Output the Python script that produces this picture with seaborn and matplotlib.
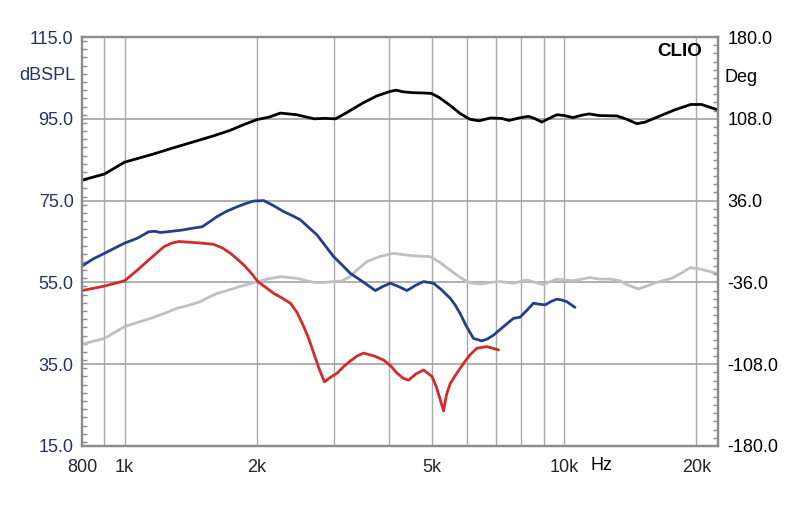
import numpy as np
import pandas as pd
import matplotlib
matplotlib.use("Agg")
import matplotlib.pyplot as plt
import seaborn as sns
from matplotlib.ticker import FixedLocator, NullFormatter, MultipleLocator

# ---------------- data ----------------
black_f = [800, 900, 1000, 1164, 1300, 1470, 1600, 1731, 1870, 2000, 2130, 2262,
           2460, 2700, 2850, 3020, 3200, 3490, 3750, 4023, 4150, 4300, 4510, 4800,
           4990, 5200, 5500, 5800, 6100, 6400, 6800, 7200, 7500, 7900, 8300, 8600,
           8900, 9200, 9640, 10000, 10480, 11000, 11400, 12000, 13200, 13800,
           14650, 15300, 16270, 17870, 19420, 20550, 22340]
black_db = [80.0, 81.5, 84.4, 86.4, 88.0, 89.7, 90.9, 92.1, 93.6, 94.8, 95.4, 96.4,
            96.0, 95.0, 95.1, 95.0, 96.5, 98.9, 100.6, 101.7, 102.0, 101.6, 101.4,
            101.3, 101.2, 100.2, 98.3, 96.3, 94.9, 94.5, 95.2, 95.1, 94.6, 95.2,
            95.6, 95.0, 94.2, 95.0, 96.0, 95.8, 95.3, 95.9, 96.2, 95.8, 95.7, 95.0,
            93.8, 94.2, 95.4, 97.2, 98.5, 98.5, 97.2]

blue_f = [800, 850, 900, 950, 1000, 1069, 1136, 1170, 1207, 1280, 1352, 1420,
          1502, 1560, 1624, 1700, 1804, 1900, 1967, 2073, 2180, 2302, 2400, 2512,
          2620, 2741, 2860, 2990, 3130, 3264, 3480, 3720, 3870, 4023, 4200, 4391,
          4580, 4788, 5047, 5260, 5508, 5650, 5800, 6000, 6221, 6501, 6700, 6908,
          7300, 7670, 7943, 8200, 8516, 8750, 9054, 9330, 9625, 9880, 10140, 10590]
blue_db = [59.0, 60.8, 62.1, 63.4, 64.6, 65.8, 67.4, 67.5, 67.2, 67.5, 67.8, 68.2,
           68.6, 69.8, 71.1, 72.3, 73.5, 74.4, 74.9, 75.0, 73.8, 72.3, 71.4, 70.3,
           68.5, 66.6, 64.0, 61.3, 59.2, 57.2, 55.2, 53.0, 54.0, 54.8, 54.0, 53.0,
           54.2, 55.2, 54.8, 53.2, 51.1, 49.5, 47.4, 44.2, 41.3, 40.7, 41.2, 42.1,
           44.3, 46.2, 46.5, 48.0, 49.9, 49.7, 49.5, 50.3, 50.9, 50.7, 50.3, 48.9]

red_f = [800, 900, 1000, 1069, 1146, 1228, 1280, 1329, 1413, 1500, 1595, 1670,
         1742, 1800, 1866, 1940, 2010, 2100, 2185, 2280, 2384, 2470, 2556, 2630,
         2693, 2780, 2850, 2950, 3044, 3150, 3264, 3380, 3499, 3700, 3886, 4030,
         4168, 4300, 4427, 4600, 4788, 5005, 5120, 5228, 5318, 5400, 5508, 5700,
         5905, 6100, 6332, 6674, 7093]
red_db = [53.0, 54.1, 55.4, 58.0, 60.9, 63.7, 64.6, 65.0, 64.8, 64.6, 64.3, 63.4,
          62.1, 60.8, 59.3, 57.3, 55.2, 53.7, 52.3, 51.2, 49.9, 47.6, 44.2, 41.0,
          37.7, 33.5, 30.7, 31.9, 32.8, 34.4, 35.8, 37.0, 37.7, 37.0, 36.0, 34.6,
          32.8, 31.6, 31.1, 32.6, 33.6, 32.0, 29.5, 26.3, 23.6, 27.5, 30.3, 32.8,
          35.2, 37.2, 38.9, 39.3, 38.5]

gray_f = [800, 900, 950, 1000, 1070, 1146, 1230, 1318, 1400, 1488, 1550, 1624,
          1710, 1804, 1900, 2010, 2130, 2262, 2470, 2693, 2850, 2990, 3130, 3264,
          3400, 3561, 3800, 4093, 4300, 4545, 4961, 5200, 5508, 5750, 6009, 6200,
          6444, 6800, 7155, 7670, 8229, 8600, 8974, 9300, 9625, 10500, 11460,
          12070, 12720, 13410, 14000, 14750, 15500, 16250, 17570, 18500, 19340,
          20370, 22230]
gray_db = [39.9, 41.3, 42.8, 44.2, 45.2, 46.2, 47.4, 48.7, 49.4, 50.3, 51.3, 52.3,
           53.0, 53.8, 54.5, 55.2, 55.9, 56.4, 56.0, 55.0, 55.0, 55.2, 55.4, 56.5,
           58.3, 60.1, 61.3, 62.1, 61.8, 61.5, 61.3, 60.0, 58.0, 56.5, 55.2, 54.8,
           54.6, 55.0, 55.2, 54.8, 55.6, 55.0, 54.4, 55.2, 55.8, 55.4, 56.2, 55.8,
           55.8, 55.4, 54.3, 53.4, 54.2, 55.0, 56.0, 57.3, 58.6, 58.3, 57.2]

left_ticks = [15, 35, 55, 75, 95, 115]
right_ticks = [-180, -108, -36, 36, 108, 180]
x_label_ticks = [800, 1000, 2000, 5000, 10000, 20000]
x_label_text = ["800", "1k", "2k", "5k", "10k", "20k"]
x_grid = [900, 1000, 2000, 3000, 4000, 5000, 6000, 7000, 8000, 9000, 10000, 20000]

# ---------------- figure ----------------
sns.set_style("white")
plt.rcParams['font.family'] = ['Liberation Sans', 'DejaVu Sans']

fig = plt.figure(figsize=(8.0, 5.07), dpi=100)
ax = fig.add_axes([82/800, 1-446/507, (718-82)/800, (446-37)/507])

navy = "#27306b"
grid_c = "#a9a9a9"
frame_c = "#8c8c8c"

ax.set_xscale("log")
ax.set_xlim(800, 22400)
ax.set_ylim(15, 115)

for f in x_grid:
    ax.axvline(f, color=grid_c, lw=1.0, zorder=0)
for v in left_ticks[1:-1]:
    ax.axhline(v, color=grid_c, lw=1.3, zorder=0)

def draw(fs, vals, color, lw=2.0):
    df = pd.DataFrame({"f": fs, "v": vals})
    sns.lineplot(data=df, x="f", y="v", color=color, lw=lw, ax=ax, zorder=3)
    ax.lines[-1].set_solid_joinstyle("round")
    ax.lines[-1].set_solid_capstyle("round")

draw(gray_f, gray_db, "#c0c0c0")
draw(red_f, red_db, "#d42a2a")
draw(blue_f, blue_db, "#233f8c")
draw(black_f, black_db, "#000000")

ax.set_xlabel("")
ax.set_ylabel("")

# x ticks
ax.xaxis.set_major_locator(FixedLocator(x_label_ticks))
ax.set_xticklabels(x_label_text)
ax.xaxis.set_minor_locator(FixedLocator([]))
ax.xaxis.set_minor_formatter(NullFormatter())
ax.tick_params(axis="x", which="both", length=0, pad=9, labelsize=13)
for lab in ax.get_xticklabels():
    lab.set_family(['Liberation Sans Narrow', 'Liberation Sans', 'DejaVu Sans'])

# left y ticks
ax.set_yticks(left_ticks)
ax.set_yticklabels([f"{v:.1f}" for v in left_ticks])
ax.yaxis.set_minor_locator(MultipleLocator(2))
ax.tick_params(axis="y", which="major", length=0, pad=6, labelsize=13, labelcolor=navy)
ax.tick_params(axis="y", which="minor", length=3.5, direction="in", color=frame_c, width=1)

for s in ax.spines.values():
    s.set_color(frame_c)
    s.set_linewidth(1.6)

# right axis
ax2 = ax.twinx()
ax2.set_ylim(-180, 180)
ax2.set_yticks(right_ticks)
ax2.set_yticklabels([f"{v:.1f}" for v in right_ticks])
ax2.yaxis.set_minor_locator(MultipleLocator(7.2))
ax2.tick_params(axis="y", which="major", length=0, pad=7, labelsize=13, labelcolor="black")
ax2.tick_params(axis="y", which="minor", length=3.5, direction="in", color=frame_c, width=1)
for s in ax2.spines.values():
    s.set_color(frame_c)
    s.set_linewidth(1.6)

# texts
fig.text(47/800, 1-76/507, "dBSPL", color=navy, fontsize=13, ha="center", va="center")
fig.text(724/800, 1-78/507, "Deg", color="black", fontsize=13, ha="left", va="center")
fig.text(679.5/800, 1-51/507, "CLIO", color="black", fontsize=13.5, fontweight="bold",
         ha="center", va="center")
fig.text(601/800, 1-466/507, "Hz", color="black", fontsize=13, ha="center", va="center",
         family=['Liberation Sans Narrow', 'Liberation Sans', 'DejaVu Sans'])

fig.savefig("out.png", dpi=100, facecolor="white")
